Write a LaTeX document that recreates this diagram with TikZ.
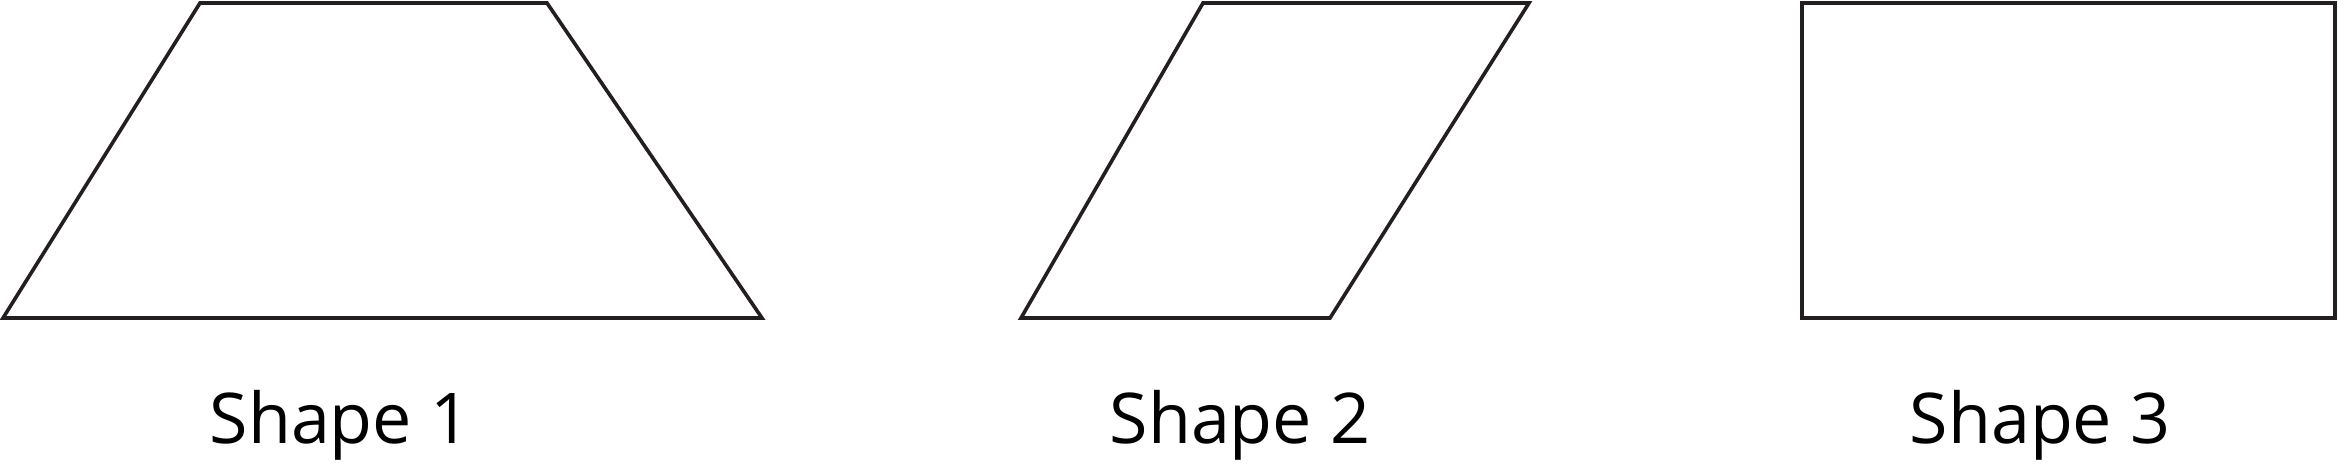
\documentclass[tikz,border=0pt]{standalone}
\usepackage{fontspec}
\setmainfont{Open Sans}
\definecolor{ink}{HTML}{231F20}
\begin{document}
\begin{tikzpicture}[x=1pt,y=-1pt,
  outline/.style={draw=ink,line width=3.6pt,line join=miter},
  lbl/.style={anchor=base,inner sep=0pt,font=\fontsize{70}{82}\selectfont,text=black}]
\useasboundingbox (0,0) rectangle (2338,464);
% Shape 1: trapezoid
\draw[outline] (3,318) -- (200,3) -- (547,3) -- (762,318) -- cycle;
% Shape 2: parallelogram
\draw[outline] (1021,318) -- (1203,3) -- (1529,3) -- (1330,318) -- cycle;
% Shape 3: rectangle
\draw[outline] (1802,3) rectangle (2335,318);
\node[lbl] (l1) at (340,443) {Shape 1};
\node[lbl] (l2) at (1240,443) {Shape 2};
\node[lbl] (l3) at (2040,443) {Shape 3};
\end{tikzpicture}
\end{document}
